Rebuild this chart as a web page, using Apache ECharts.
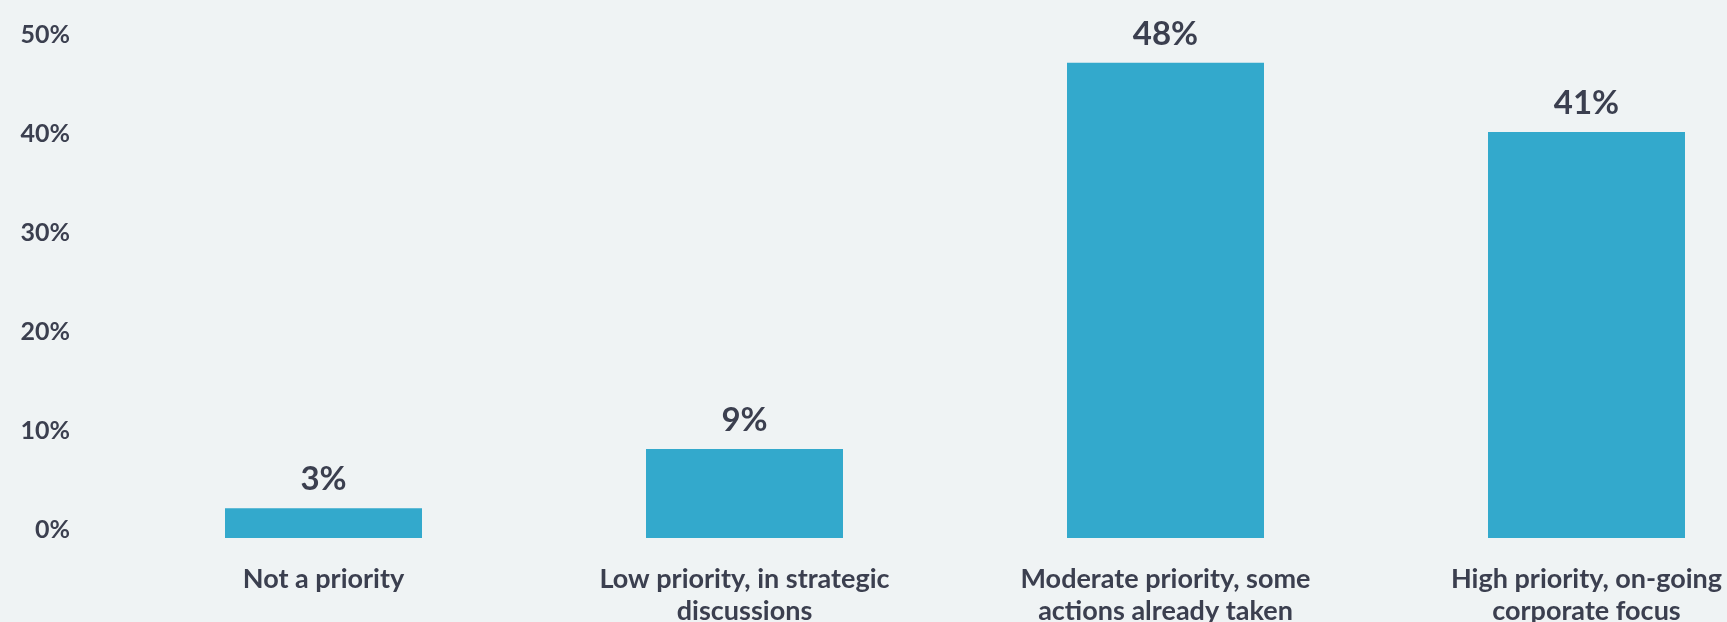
<!DOCTYPE html>
<html>
<head>
<meta charset="utf-8">
<title>Priority level</title>
<script src="https://cdn.jsdelivr.net/npm/echarts@6/dist/echarts.min.js"></script>
<style>
  html, body { margin: 0; padding: 0; background: #eff3f4; }
  #chart { width: 1727px; height: 622px; }
</style>
</head>
<body>
<div id="chart"></div>
<script>
// Priority categories (line breaks mark where the label wraps)
const categories = [
  'Not a priority',
  'Low priority, in strategic\ndiscussions',
  'Moderate priority, some\nactions already taken',
  'High priority, on-going\ncorporate focus'
];

// Share of respondents, in percent
const shares = [3, 9, 48, 41];

// Value axis range and step, in percent
const axisMin = 0;
const axisMax = 50;
const axisStep = 10;

const ink = '#3b3f4f';
const barColor = '#33a9cc';
const fontFamily = 'Lato, "Open Sans", "Noto Sans", sans-serif';

const chart = echarts.init(document.getElementById('chart'), null, { renderer: 'canvas' });

chart.setOption({
  backgroundColor: '#eff3f4',
  animation: false,
  // the last category runs slightly past the right edge of the canvas,
  // so the grid is laid out as given without squeezing it inside the bounds
  grid: {
    left: 113, width: 1684, top: 43, bottom: 84,
    containLabel: false,
    outerBoundsMode: 'none'
  },
  xAxis: {
    type: 'category',
    data: categories,
    boundaryGap: true,
    axisLine: { show: false },
    axisTick: { show: false },
    splitLine: { show: false },
    axisLabel: {
      interval: 0,
      margin: 25,
      color: ink,
      fontFamily: fontFamily,
      fontWeight: 'bold',
      fontSize: 27,
      lineHeight: 32,
      align: 'center'
    }
  },
  yAxis: {
    type: 'value',
    min: axisMin,
    max: axisMax,
    interval: axisStep,
    axisLine: { show: false },
    axisTick: { show: false },
    splitLine: { show: false },
    axisLabel: {
      margin: 43,
      color: ink,
      fontFamily: fontFamily,
      fontWeight: 'bold',
      fontSize: 25,
      align: 'right',
      verticalAlign: 'bottom',
      lineHeight: 17,
      formatter: v => v + '%'
    }
  },
  series: [{
    type: 'bar',
    data: shares,
    barWidth: 197,
    itemStyle: { color: barColor },
    label: {
      show: true,
      position: 'top',
      distance: 12,
      color: ink,
      fontFamily: fontFamily,
      fontWeight: 'bold',
      fontSize: 33,
      formatter: p => p.value + '%'
    }
  }]
});
</script>
</body>
</html>
